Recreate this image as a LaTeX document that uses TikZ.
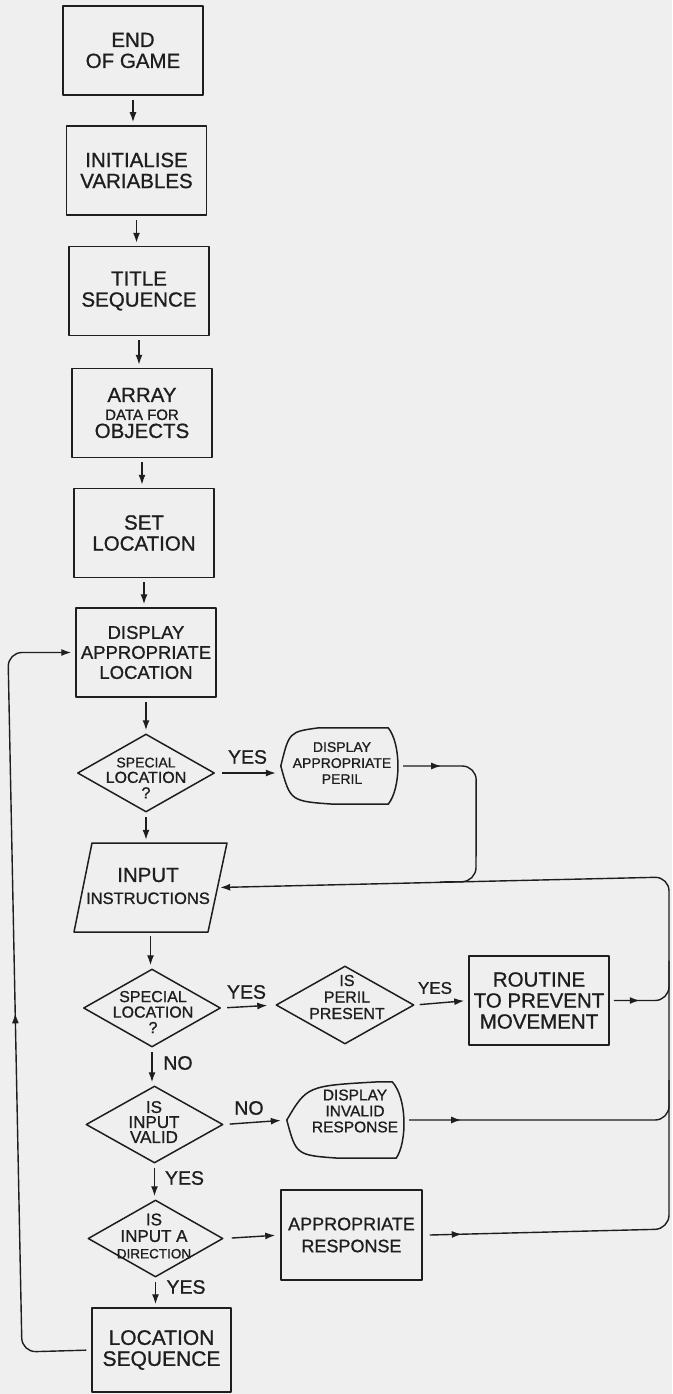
\documentclass[tikz,border=0pt]{standalone}
\usepackage{fontspec}
\setmainfont{Liberation Sans}[BoldFont=Liberation Sans, BoldFeatures={FakeBold=0.9}]
\usetikzlibrary{shapes.geometric,arrows.meta,calc,decorations.markings}
\definecolor{bgc}{RGB}{239,239,239}
\definecolor{ink}{RGB}{30,30,30}
\newcommand{\dispshape}[5]{%
  \draw[shp] (#1.west) .. controls ($(#1.north west)+(0.22*#2,4)$) .. ($(#1.north west)+(#2,0)$)
    -- ($(#1.north east)+(-#4,0)$)
    .. controls ($(#1.east)+(4,-22)$) and ($(#1.east)+(4,22)$) .. ($(#1.south east)+(-#5,0)$)
    -- ($(#1.south west)+(#3,0)$)
    .. controls ($(#1.south west)+(0.18*#3,-3)$) .. (#1.west) -- cycle;}
\begin{document}
\begin{tikzpicture}[x=1pt,y=-1pt,
  every node/.style={inner sep=0pt, align=center, text=ink, font=\bfseries},
  shp/.style={draw=ink, line width=1.5pt, line join=round},
  box/.style={shp, rectangle, minimum width=140pt, minimum height=89pt, font=\bfseries\fontsize{20.5}{21}\selectfont},
  dia/.style={shp, diamond, minimum width=137pt, minimum height=78pt},
  dtext/.style={font=\bfseries\fontsize{16}{15.5}\selectfont},
  ghost/.style={rectangle, minimum width=116pt, minimum height=76pt},
  lbl/.style={font=\bfseries\fontsize{19.5}{19}\selectfont},
  tip/.style={-{Latex[length=10pt,width=7pt]}},
  line/.style={draw=ink, line width=1.4pt},
  conn/.style={line, tip, shorten <=4pt, shorten >=3pt},
  midarr/.style={postaction=decorate, decoration={markings, mark=at position #1 with {\arrow{Latex[length=10pt,width=7pt]}}}},
]
\fill[bgc] (0,0) rectangle (672,1394);
\useasboundingbox (0,0) rectangle (672,1394);

% main column
\node[box] (endg) at (133,50.5) {END\\OF GAME};
\node[box] (init) at (136.5,170.5) {INITIALISE\\VARIABLES};
\node[box] (title) at (139,291) {TITLE\\SEQUENCE};
\node[box, font=\bfseries\fontsize{20.5}{18}\selectfont] (array) at (142,413) {ARRAY\\{\fontsize{15}{14}\selectfont DATA FOR}\\OBJECTS};
\node[box] (setloc) at (144,533) {SET\\LOCATION};
\node[box, font=\bfseries\fontsize{18.5}{20}\selectfont] (disploc) at (146,652.5) {DISPLAY\\APPROPRIATE\\LOCATION};

\node[dia] (d1) at (146,773) {};
\node[dtext] (d1t) at (146,778) {{\fontsize{14}{13}\selectfont SPECIAL}\\LOCATION\\?};

\node[ghost] (peril) at (339,766) {};
\dispshape{peril}{38}{53}{9}{9}
\node[font=\bfseries\fontsize{14}{16}\selectfont] (perilt) at (342,763) {DISPLAY\\APPROPRIATE\\PERIL};

\node[rectangle, minimum width=135pt, minimum height=89pt] (input) at (150.5,887.5) {};
\draw[shp] (92,843) -- (227,843) -- (208,932) -- (74,932) -- cycle;
\node[font=\bfseries\fontsize{20.5}{22}\selectfont] (inputt) at (148,886) {INPUT\\{\fontsize{16.5}{16}\selectfont INSTRUCTIONS}};

\node[dia] (d2) at (152,1008) {};
\node[dtext] (d2t) at (153,1012) {SPECIAL\\LOCATION\\?};
\node[dia, minimum width=138pt] (d3) at (345,1005) {};
\node[dtext, font=\bfseries\fontsize{16}{16.5}\selectfont] (d3t) at (347,997) {IS\\PERIL\\PRESENT};
\node[box] (routine) at (539,1000.5) {ROUTINE\\TO PREVENT\\MOVEMENT};

\node[dia, minimum height=77pt] (d4) at (154.5,1124.5) {};
\node[dtext, font=\bfseries\fontsize{17}{15}\selectfont] (d4t) at (154,1122) {IS\\INPUT\\VALID};
\node[ghost] (invalid) at (345,1120) {};
\dispshape{invalid}{92}{52}{11}{7}
\node[font=\bfseries\fontsize{15.5}{16}\selectfont] (invalidt) at (355,1111) {DISPLAY\\INVALID\\RESPONSE};

\node[dia, minimum width=135pt, minimum height=77pt] (d5) at (155.5,1238.5) {};
\node[dtext, font=\bfseries\fontsize{17}{16.5}\selectfont] (d5t) at (154,1236) {IS\\INPUT A\\{\fontsize{13.5}{13}\selectfont DIRECTION}};
\node[box, minimum width=141pt, minimum height=90pt, font=\bfseries\fontsize{18}{22}\selectfont] (appresp) at (351.5,1235) {APPROPRIATE\\RESPONSE};

\node[box, minimum width=139pt, minimum height=84pt, font=\bfseries\fontsize{21}{21}\selectfont] (locseq) at (161.5,1350) {LOCATION\\SEQUENCE};

% labels
\node[lbl] (yes1) at (247.5,757) {YES};
\node[lbl] (yes2) at (246.5,992) {YES};
\node[lbl, font=\bfseries\fontsize{17}{16}\selectfont] (yes3) at (435,988) {YES};
\node[lbl] (no1) at (178,1063) {NO};
\node[lbl] (no2) at (249,1108) {NO};
\node[lbl] (yes4) at (184.5,1178) {YES};
\node[lbl] (yes5) at (186,1287) {YES};

% vertical arrows
\draw[conn] (endg.south) -- (endg.south |- init.north);
\draw[conn] (init.south) -- (init.south |- title.north);
\draw[conn] (title.south) -- (title.south |- array.north);
\draw[conn] (array.south) -- (array.south |- setloc.north);
\draw[conn] (setloc.south) -- (setloc.south |- disploc.north);
\draw[conn] (disploc.south) -- (disploc.south |- d1.north);
\draw[conn] (d1.south) -- (d1.south |- input.north);
\draw[conn] (input.south) -- (input.south |- d2.north);
\draw[conn] (d2.south) -- (d2.south |- d4.north);
\draw[conn] (d4.south) -- (d4.south |- d5.north);
\draw[conn] (d5.south) -- (d5.south |- locseq.north);

% horizontal arrows
\draw[conn, shorten <=7pt, shorten >=5pt] (d1.east) -- (d1.east -| peril.west);
\draw[conn, shorten <=6pt, shorten >=8pt] (d2.east) -- (d3.west);
\draw[conn, shorten <=5pt, shorten >=4pt] (d3.east) -- (routine.west);
\draw[conn, shorten <=6pt, shorten >=6pt] (d4.east) -- (invalid.west);
\draw[conn, shorten <=8pt, shorten >=5pt] (d5.east) -- (appresp.west);

% return lines on the right
\coordinate (rtop) at (669,877);
\coordinate (rbot) at (669,1229);
\coordinate (rr) at (rtop |- routine.east);
\coordinate (ri) at (rtop |- invalid.east);
\coordinate (pa) at ($(peril.east)+(79,0)$);
\coordinate (pb) at (476,881.5);
\coordinate (pc) at (440,882);
\draw[line, tip, rounded corners=14pt, midarr=32pt, shorten >=2pt] ($(appresp.east)+(7,0)$) -- (rbot) -- (rtop) -- (input.east);
\draw[line, rounded corners=14pt, midarr=26pt] ($(routine.east)+(4,0)$) -- (rr) -- ($(rr)+(0,-40)$);
\draw[line, rounded corners=14pt, midarr=52pt] ($(invalid.east)+(6,0)$) -- (ri) -- ($(ri)+(0,-40)$);
\draw[line, rounded corners=14pt, midarr=38pt] ($(peril.east)+(6,0)$) -- (pa) -- (pb) -- (pc);

% loop back
\coordinate (lb) at (22,1352);
\coordinate (lt) at (8,652.5);
\draw[line, tip, rounded corners=14pt, midarr=402pt, shorten <=5pt, shorten >=4pt] (locseq.west) -- (lb) -- (lt) -- (disploc.west);
\end{tikzpicture}
\end{document}
